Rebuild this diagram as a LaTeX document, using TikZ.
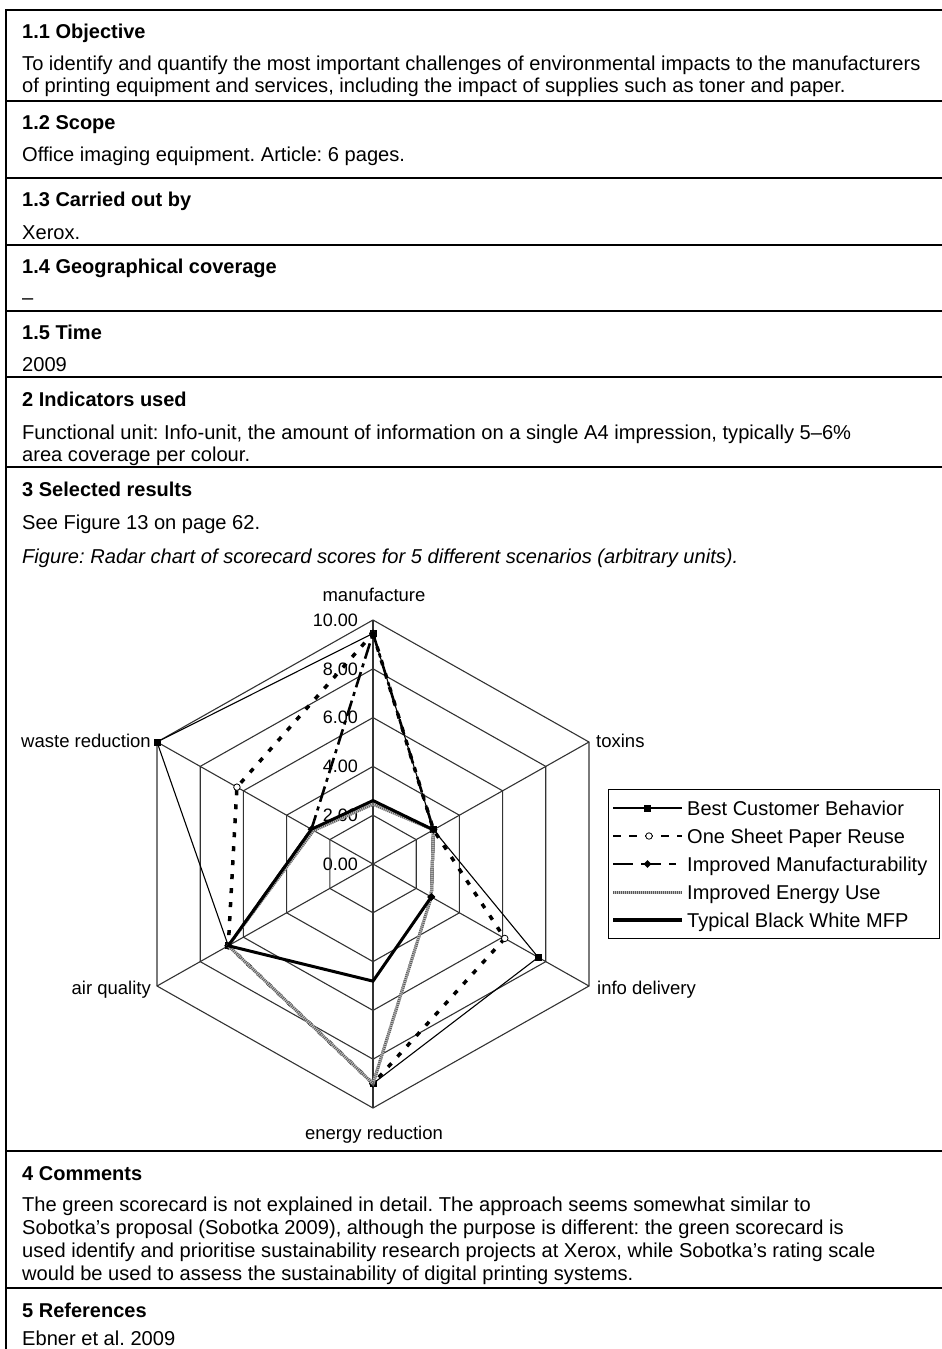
\documentclass[tikz,border=0pt]{standalone}
\usepackage{fontspec}
\setmainfont{Liberation Sans}
\usetikzlibrary{shapes.geometric}
\frenchspacing
\begin{document}
\begin{tikzpicture}[x=1pt,y=-1pt,
  rule/.style={line width=2pt,black},
  head/.style={anchor=base west,inner sep=0pt,font=\fontsize{20}{24}\selectfont\bfseries},
  body/.style={anchor=base west,inner sep=0pt,font=\fontsize{20.1}{24}\selectfont},
  ital/.style={anchor=base west,inner sep=0pt,font=\fontsize{20.1}{24}\selectfont\itshape},
  gridln/.style={line width=1.1pt,black!80},
  axlab/.style={inner sep=0pt,font=\fontsize{18.5}{22}\selectfont},
  ticklab/.style={anchor=east,inner sep=0pt,font=\fontsize{18}{22}\selectfont},
  leg/.style={anchor=base west,inner sep=0pt,font=\fontsize{20}{24}\selectfont},
  sBest/.style={line width=1.1pt,black},
  sOne/.style={line width=3.5pt,black,dash pattern=on 5pt off 9pt},
  sOneLeg/.style={line width=2pt,black,dash pattern=on 8pt off 8pt},
  sMan/.style={line width=2.6pt,black,dash pattern=on 16pt off 5pt on 4pt off 5pt},
  sManLeg/.style={line width=2.4pt,black,dash pattern=on 20pt off 8pt on 20pt off 8pt on 7pt off 20pt},
  sEn/.style={preaction={draw=black!25,line width=3pt},line width=3pt,black!65,dash pattern=on 0.8pt off 1.2pt},
  sTyp/.style={line width=3pt,black},
  mSq/.style={rectangle,fill=black,inner sep=0pt,minimum size=7pt},
  mCi/.style={circle,draw=black,fill=white,line width=0.8pt,inner sep=0pt,minimum size=6.5pt},
  mDi/.style={diamond,fill=black,inner sep=0pt,minimum size=8pt}]
\useasboundingbox (0,0) rectangle (942,1349);
\fill[white] (0,0) rectangle (942,1349);

% table rules
\draw[rule] (6,9) -- (6,1349);
\foreach \yy in {10,101,178,245,311,377,467,1151,1288}
  \draw[rule] (5,\yy) -- (942,\yy);

% table text
\node[head] (h11) at (22,38.5) {1.1 Objective};
\node[body] (t11a) at (22,70.5) {To identify and quantify the most important challenges of environmental impacts to the manufacturers};
\node[body] (t11b) at (22,92.5) {of printing equipment and services, including the impact of supplies such as toner and paper.};
\node[head] (h12) at (22,129.5) {1.2 Scope};
\node[body] (t12) at (22,161) {Office imaging equipment. Article: 6 pages.};
\node[head] (h13) at (22,206.5) {1.3 Carried out by};
\node[body] (t13) at (22,239.5) {Xerox.};
\node[head] (h14) at (22,273.5) {1.4 Geographical coverage};
\node[body] (t14) at (22,304) {–};
\node[head] (h15) at (22,339.5) {1.5 Time};
\node[body] (t15) at (22,371.5) {2009};
\node[head] (h2) at (22,406.5) {2 Indicators used};
\node[body] (t2a) at (22,439.5) {Functional unit: Info-unit, the amount of information on a single A4 impression, typically 5–6\%};
\node[body] (t2b) at (22,461.5) {area coverage per colour.};
\node[head] (h3) at (22,496.5) {3 Selected results};
\node[body] (t3a) at (22,529.5) {See Figure 13 on page 62.};
\node[ital] (t3b) at (22,563.5) {Figure: Radar chart of scorecard scores for 5 different scenarios (arbitrary units).};
\node[head] (h4) at (22,1180.5) {4 Comments};
\node[body] (t4a) at (22,1211.5) {The green scorecard is not explained in detail. The approach seems somewhat similar to};
\node[body] (t4b) at (22,1234.5) {Sobotka’s proposal (Sobotka 2009), although the purpose is different: the green scorecard is};
\node[body] (t4c) at (22,1257.5) {used identify and prioritise sustainability research projects at Xerox, while Sobotka’s rating scale};
\node[body] (t4d) at (22,1280.5) {would be used to assess the sustainability of digital printing systems.};
\node[head] (h5) at (22,1317.5) {5 References};
\node[body] (t5) at (22,1345) {Ebner et al. 2009};

% tick labels
\foreach \v in {0,2,4,6,8,10}
  \node[ticklab] (tick\v) at (358,{864-24.4*\v}) {\v.00};

% axis labels
\node[axlab,anchor=base] (lman) at (374,601) {manufacture};
\node[axlab,anchor=base west] (ltox) at (596,747) {toxins};
\node[axlab,anchor=base west] (linf) at (597,994) {info delivery};
\node[axlab,anchor=base] (lene) at (374,1139) {energy reduction};
\node[axlab,anchor=base east] (lair) at (151,994) {air quality};
\node[axlab,anchor=base east] (lwas) at (151,747) {waste reduction};

% radar chart
\begin{scope}[shift={(373,864)},x=24.94pt,y=24.4pt]
  \coordinate (C) at (0,0);
  \foreach \a [count=\i] in {90,30,-30,-90,210,150}
    \coordinate (V\i) at (\a:10);
  \foreach \r in {2,4,6,8,10}
    \draw[gridln] (90:\r) -- (30:\r) -- (-30:\r) -- (-90:\r) -- (210:\r) -- (150:\r) -- cycle;
  \foreach \i in {1,...,6}
    \draw[gridln] (C) -- (V\i);

  % Best Customer Behavior
  \coordinate (b1) at (90:9.45); \coordinate (b2) at (30:2.8); \coordinate (b3) at (-30:7.65);
  \coordinate (b4) at (-90:9.0); \coordinate (b5) at (210:6.7); \coordinate (b6) at (150:10);
  \draw[sBest] (b1) -- (b2) -- (b3) -- (b4) -- (b5) -- (b6) -- cycle;
  \foreach \i in {1,...,6} \node[mSq] (mb\i) at (b\i) {};

  % One Sheet Paper Reuse
  \coordinate (o1) at (90:9.45); \coordinate (o2) at (30:2.8); \coordinate (o3) at (-30:6.1);
  \coordinate (o4) at (-90:9.0); \coordinate (o5) at (210:6.7); \coordinate (o6) at (150:6.3);
  \draw[sOne] (o1) -- (o2) -- (o3) -- (o4) -- (o5) -- (o6) -- cycle;
  \foreach \i in {1,...,6} \node[mCi] (mo\i) at (o\i) {};

  % Improved Manufacturability
  \coordinate (p1) at (90:9.45); \coordinate (p2) at (30:2.8); \coordinate (p3) at (-30:2.7);
  \coordinate (p4) at (-90:9.0); \coordinate (p5) at (210:6.7); \coordinate (p6) at (150:2.85);
  \draw[sMan] (p1) -- (p2) -- (p3) -- (p4) -- (p5) -- (p6) -- cycle;
  \foreach \i in {1,...,6} \node[mDi] (mp\i) at (p\i) {};

  % Improved Energy Use
  \coordinate (e1) at (90:2.45); \coordinate (e2) at (30:2.8); \coordinate (e3) at (-30:2.7);
  \coordinate (e4) at (-90:9.0); \coordinate (e5) at (210:6.7); \coordinate (e6) at (150:2.75);
  \draw[sEn] (e1) -- (e2) -- (e3) -- (e4) -- (e5) -- (e6) -- cycle;

  % Typical Black White MFP
  \coordinate (y1) at (90:2.6); \coordinate (y2) at (30:2.8); \coordinate (y3) at (-30:2.7);
  \coordinate (y4) at (-90:4.8); \coordinate (y5) at (210:6.7); \coordinate (y6) at (150:2.85);
  \draw[sTyp] (y1) -- (y2) -- (y3) -- (y4) -- (y5) -- (y6) -- cycle;

  % grey band shows on top along the toxins - info delivery segment
  \draw[sEn] (e2) -- (e3);
  \node[mDi] (mp2b) at (p2) {};
  \node[mDi] (mp3b) at (p3) {};
\end{scope}

% legend
\node[draw,line width=1pt,anchor=north west,inner sep=0pt,minimum width=331pt,minimum height=149pt] (legbox) at (608,789) {};
\foreach \k/\yy in {1/808,2/836,3/864,4/892,5/920}{
  \coordinate (la\k) at (613,\yy);
  \coordinate (lb\k) at (682,\yy);
}
\draw[sBest] (la1) -- (lb1);
\node[mSq] (lm1) at (647.5,808) {};
\draw[sOneLeg] (la2) -- (lb2);
\node[mCi] (lm2) at (649,836) {};
\draw[sManLeg] (la3) -- (lb3);
\node[mDi] (lm3) at (647.5,864) {};
\draw[sEn] (la4) -- (lb4);
\draw[sTyp,line width=3.4pt] (la5) -- (lb5);
\node[leg] (lt1) at (687,815) {Best Customer Behavior};
\node[leg] (lt2) at (687,843) {One Sheet Paper Reuse};
\node[leg] (lt3) at (687,871) {Improved Manufacturability};
\node[leg] (lt4) at (687,899) {Improved Energy Use};
\node[leg] (lt5) at (687,927) {Typical Black White MFP};
\end{tikzpicture}
\end{document}
